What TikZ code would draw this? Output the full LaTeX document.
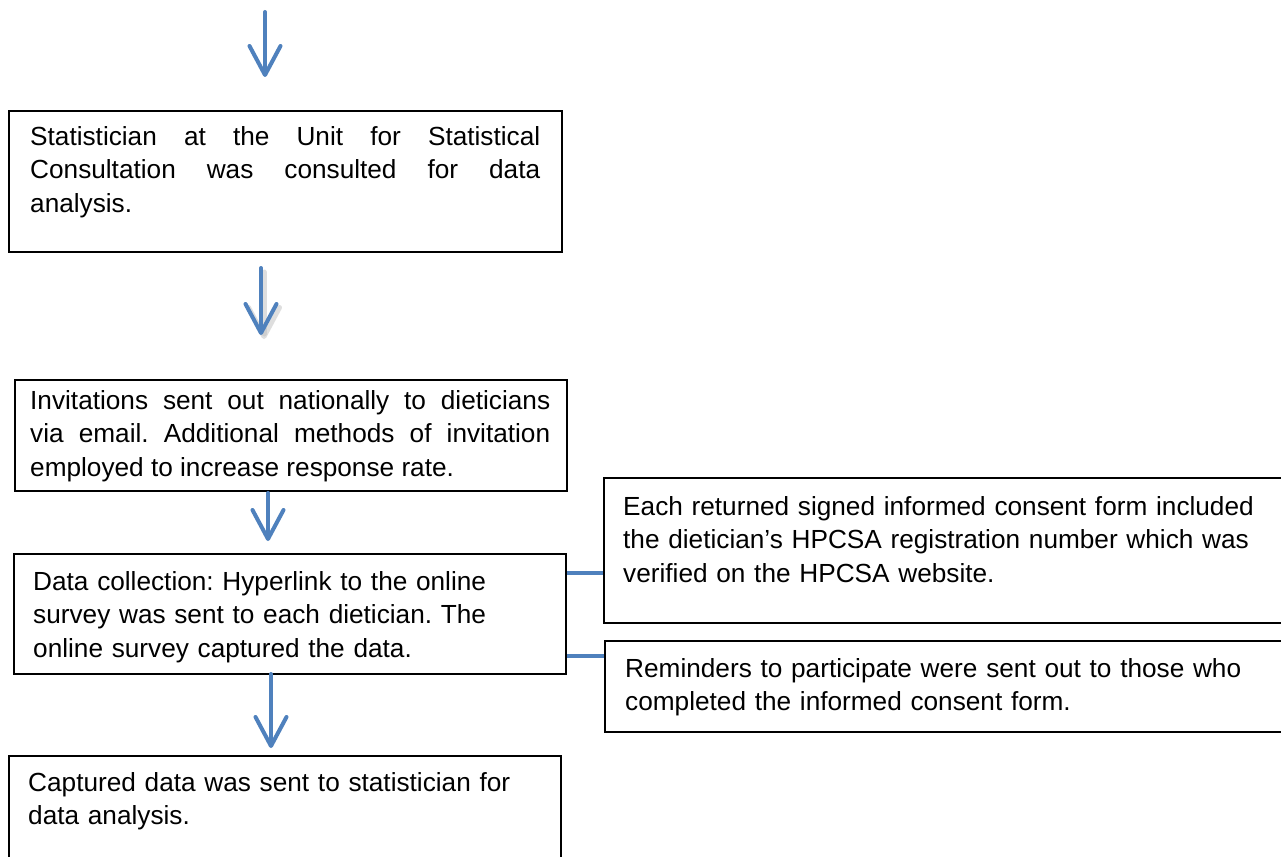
\documentclass[tikz,border=0pt]{standalone}
\usepackage{fontspec}
\setmainfont{Liberation Sans}
\usetikzlibrary{arrows.meta,calc}
\definecolor{flowblue}{RGB}{79,129,189}
\begin{document}
\begin{tikzpicture}[x=1pt,y=-1pt,
  box/.style={draw=black, line width=1.8pt, rectangle, inner sep=0pt, anchor=north west},
  txt/.style={inner sep=0pt, anchor=base west, font=\fontsize{26.2}{33.6}\selectfont\frenchspacing},
  jtxt/.style={txt, align=justify},
  ltxt/.style={txt, align=left},
  arr/.style={draw=flowblue, line width=4pt, line cap=round, line join=round,
    -{Straight Barb[length=29pt, width=31pt, round]}},
  conn/.style={draw=flowblue, line width=4.5pt},
  shadowarr/.style={draw=black!25, line width=5pt, line cap=round, line join=round, opacity=0.5,
    -{Straight Barb[length=29pt, width=31pt, round]}}
]
\path[use as bounding box, clip] (0,0) rectangle (1281,856);
\fill[white] (0,0) rectangle (1281,856);

% boxes
\node[box, minimum width=553pt, minimum height=141pt] (b1) at (8,110) {};
\node[box, minimum width=552pt, minimum height=111pt] (b2) at (14,379) {};
\node[box, minimum width=552pt, minimum height=120pt] (b3) at (13,553) {};
\node[box, minimum width=552pt, minimum height=140pt] (b4) at (8,755) {};
\node[box, minimum width=690pt, minimum height=145pt] (b5) at (603,477) {};
\node[box, minimum width=690pt, minimum height=91pt] (b6) at (604,640) {};

% texts
\node[jtxt, text width=510pt] (t1) at (30,145)
 {Statistician at the Unit for Statistical\linebreak Consultation was consulted for data\linebreak analysis.};
\node[jtxt, text width=520pt] (t2) at (30,409)
 {Invitations sent out nationally to dieticians\linebreak via email. Additional methods of invitation\linebreak employed to increase response rate.};
\node[ltxt, text width=520pt] (t3) at (33,590)
 {Data collection: Hyperlink to the online\\survey was sent to each dietician. The\\online survey captured the data.};
\node[ltxt, text width=520pt] (t4) at (28,791)
 {Captured data was sent to statistician for\\data analysis.};
\node[ltxt, text width=650pt] (t5) at (623,515)
 {Each returned signed informed consent form included\\the dietician’s HPCSA registration number which was\\verified on the HPCSA website.};
\node[ltxt, text width=650pt] (t6) at (625,677)
 {Reminders to participate were sent out to those who\\completed the informed consent form.};

% arrow coordinates
\coordinate (a1s) at (265,12);
\coordinate (a1e) at (265,77);
\coordinate (a2s) at (261,268);
\coordinate (a2e) at (261,335);
\coordinate (a3s) at (268,493);
\coordinate (a3e) at (268,541);
\coordinate (a4s) at (271,674);
\coordinate (a4e) at (271,748);

\draw[shadowarr] ($(a2s)+(3,4)$) -- ($(a2e)+(3,4)$);
\draw[arr] (a1s) -- (a1e);
\draw[arr] (a2s) -- (a2e);
\draw[arr] (a3s) -- (a3e);
\draw[arr] (a4s) -- (a4e);

% side connectors
\draw[conn] (b3.east |- 0,573) -- (b5.west |- 0,573);
\draw[conn] (b3.east |- 0,656) -- (b6.west |- 0,656);
\end{tikzpicture}
\end{document}
